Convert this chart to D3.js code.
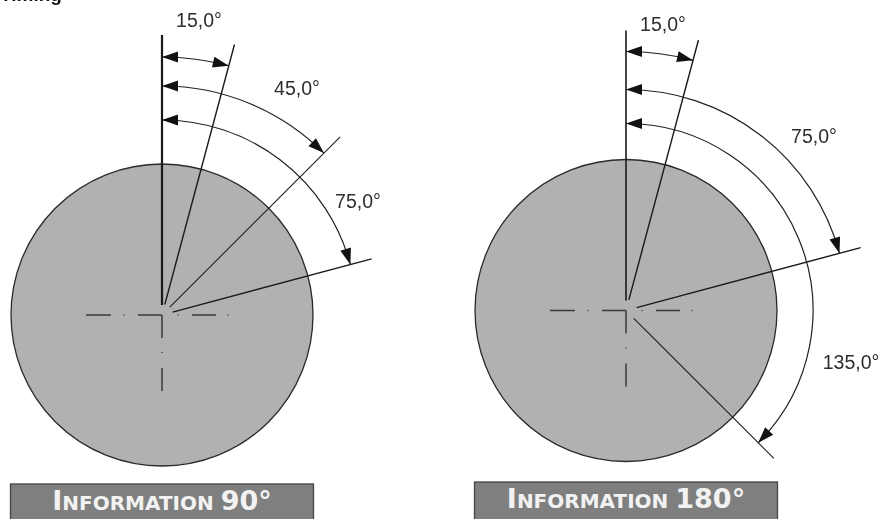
<!DOCTYPE html>
<html><head><meta charset="utf-8">
<script src="https://cdn.jsdelivr.net/npm/d3@7/dist/d3.min.js"></script>
<style>html,body{margin:0;padding:0;background:#fff}svg{display:block;filter:blur(0.35px)}</style>
</head><body>
<svg id="c" width="881" height="519"></svg>
<script>
const panelNames = ["90°", "180°"];
const rayAngles = [[0, 15, 45, 75], [0, 15, 75, 135]];
const arcAngles = [[15, 45, 75], [15, 75, 135]];
const arcLabels = [["15,0°", "45,0°", "75,0°"], ["15,0°", "75,0°", "135,0°"]];

const layout = [
  {cx:162, cy:315, R:151, rays:[280,280,252,217], arcs:[258,229,195], lx:[199,297,358], ly:[27,95,208], by:484, vw:2.2},
  {cx:626, cy:310.5, R:151, rays:[280,280,243,209], arcs:[259,221,187], lx:[663,814,851], ly:[31,143,369], by:482, vw:1.6}
];
const svg = d3.select("#c");
const ang = d3.scaleLinear().domain([0,360]).range([0,2*Math.PI]);
const arcGen = d3.arc();

svg.append("text").attr("x",0).attr("y",1).style("font-family","'Liberation Sans', Arial, sans-serif")
  .attr("font-weight","bold").attr("font-size",19).attr("fill","#111").text("Timing");

layout.forEach((p,i)=>{
  const g = svg.append("g").attr("transform",`translate(${p.cx},${p.cy})`);
  g.append("circle").attr("r",p.R).attr("fill","#b1b1b1").attr("stroke","#2a2a2a").attr("stroke-width",1.3);

  // rays
  g.selectAll("line.ray").data(rayAngles[i]).join("line").attr("class","ray")
    .attr("x1",d=>(d===0?10:11)*Math.sin(ang(d))).attr("y1",d=>-(d===0?10:11)*Math.cos(ang(d)))
    .attr("x2",(d,j)=>p.rays[j]*Math.sin(ang(d))).attr("y2",(d,j)=>-p.rays[j]*Math.cos(ang(d)))
    .attr("stroke","#1a1a1a").attr("stroke-width",(d,j)=>j===0?p.vw:(d===45||d===135?1.05:1.4));

  // centre lines
  g.append("line").attr("x1",-76).attr("x2",68).attr("y1",0).attr("y2",0)
    .attr("stroke","#3a3a3a").attr("stroke-width",1.5)
    .attr("stroke-dasharray","25,12.5,1,13.5,24,15.5,1,13.5,24,11.5,1");
  g.append("line").attr("x1",0).attr("x2",0).attr("y1",0).attr("y2",76)
    .attr("stroke","#3a3a3a").attr("stroke-width",1.5)
    .attr("stroke-dasharray","23,14,1,15,23");

  // arcs
  arcAngles[i].forEach((a,j)=>{
    const r = p.arcs[j];
    g.append("path").attr("fill","none").attr("stroke","#222").attr("stroke-width",1.2)
      .attr("d",arcGen({innerRadius:r,outerRadius:r,startAngle:0,endAngle:ang(a)}));
    const head = (deg,dir)=>{
      g.append("path").attr("fill","#111")
        .attr("d","M0,0L-16,-5.5L-16,5.5Z")
        .attr("transform",`rotate(${deg}) translate(0,${-r}) rotate(${dir})`);
    };
    head(0,180);
    head(a,-2);
    g.append("text").attr("x",p.lx[j]-p.cx).attr("y",p.ly[j]-p.cy)
      .attr("text-anchor","middle").style("font-family","'Liberation Sans', Arial, sans-serif")
      .attr("font-size",19.5).attr("fill","#2e2e2e").text(arcLabels[i][j]);
  });

  // banner
  svg.append("rect").attr("x",p.cx-151.5).attr("y",p.by).attr("width",303).attr("height",44)
    .attr("fill","#7f7f7f").attr("stroke","#444").attr("stroke-width",1.3);
  const t = svg.append("text").attr("x",p.cx).attr("y",p.by+26).attr("text-anchor","middle")
    .style("font-family","'DejaVu Sans', Verdana, sans-serif").attr("font-weight","bold").attr("fill","#f2f2f2");
  t.append("tspan").attr("font-size",27).text("I");
  t.append("tspan").attr("font-size",20).text("NFORMATION ");
  t.append("tspan").attr("font-size",27).text(panelNames[i]);
});
</script>
</body></html>
